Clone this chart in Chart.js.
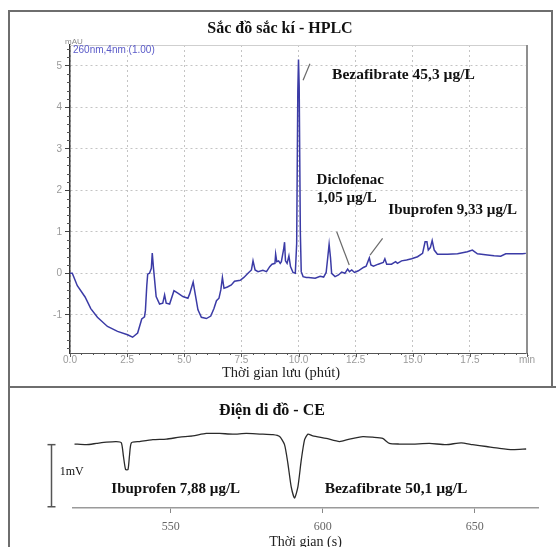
<!DOCTYPE html>
<html>
<head>
<meta charset="utf-8">
<script src="https://cdn.jsdelivr.net/npm/chart.js@4.4.1/dist/chart.umd.min.js"></script>
<style>
  html, body { margin: 0; padding: 0; background: #fff; overflow: hidden; }
  #page { position: relative; width: 556px; height: 547px; overflow: hidden; }
  .frame { position: absolute; background: #6e6e6e; }
  .title { position: absolute; font: bold 16px 'Liberation Serif', serif; color: #111; white-space: nowrap; transform: translateX(-50%); }
  #hplcBox { position: absolute; left: 0; top: 0; width: 556px; height: 387px; }
  #ceBox { position: absolute; left: 0; top: 388px; width: 556px; height: 172px; }
</style>
</head>
<body>
<div id="page">
  <div id="hplcBox"><canvas id="hplcChart"></canvas></div>
  <div id="ceBox"><canvas id="ceChart"></canvas></div>
  <div class="frame" style="left:8px;top:10px;width:545px;height:2px"></div>
  <div class="frame" style="left:8px;top:10px;width:2px;height:540px"></div>
  <div class="frame" style="left:551px;top:10px;width:2px;height:377px"></div>
  <div class="frame" style="left:8px;top:386px;width:548px;height:2px"></div>
  <div class="title" style="left:280px;top:19px">Sắc đồ sắc kí - HPLC</div>
  <div class="title" style="left:272px;top:401px">Điện di đồ - CE</div>
</div>
<script>
// ==========================
// Dữ liệu HPLC (phút, mAU)
// ==========================
const hplcTime = [
  0.0, 0.1, 0.32, 0.66, 0.91, 1.2, 1.64, 2.08, 2.52, 2.74, 2.96, 3.14, 3.26, 3.3, 3.36, 3.4,
  3.48, 3.56, 3.6, 3.65, 3.77, 3.92, 4.06, 4.14, 4.21, 4.36, 4.55, 4.72, 4.94, 5.16,
  5.24, 5.39, 5.49, 5.6, 5.75, 5.97, 6.16, 6.3, 6.41, 6.52, 6.6, 6.67, 6.74, 6.89,
  7.06, 7.2, 7.45, 7.61, 7.79, 7.94, 8.01, 8.1, 8.23, 8.44, 8.6, 8.74, 8.84, 8.97,
  9.0, 9.05, 9.13, 9.2, 9.25, 9.35, 9.39, 9.43, 9.5, 9.58, 9.65, 9.76, 9.86, 9.92,
  9.97, 10.0, 10.03, 10.08, 10.12, 10.2, 10.34, 10.44, 10.73, 10.95, 11.1, 11.21,
  11.28, 11.34, 11.4, 11.45, 11.6, 11.75, 11.89, 12.03, 12.15, 12.23, 12.33, 12.45,
  12.62, 12.84, 12.96, 13.1, 13.17, 13.28, 13.49, 13.71, 13.78, 13.86, 14.07, 14.25,
  14.33, 14.51, 14.73, 14.95, 15.21, 15.43, 15.54, 15.62, 15.68, 15.77, 15.85, 15.94,
  16.08, 16.52, 16.96, 17.39, 17.61, 17.83, 18.27, 18.56, 18.85, 19.07, 19.43, 19.8, 19.95
];
const hplcAbs = [
  0.0, 0.0, -0.3, -0.57, -0.85, -1.06, -1.28, -1.4, -1.48, -1.54, -1.44, -1.1, -1.05, -0.9, -0.3, -0.02,
  0.0, 0.12, 0.49, 0.15, -0.56, -0.74, -0.72, -0.52, -0.72, -0.74, -0.42, -0.48, -0.56, -0.6,
  -0.49, -0.21, -0.53, -0.88, -1.06, -1.09, -1.03, -0.85, -0.66, -0.6, -0.4, -0.1, -0.36, -0.33,
  -0.28, -0.19, -0.17, -0.1, 0.0, 0.08, 0.3, 0.08, 0.04, 0.07, 0.04, 0.16, 0.22, 0.24,
  0.46, 0.28, 0.3, 0.24, 0.28, 0.58, 0.75, 0.3, 0.24, 0.42, 0.16, 0.02, 0.0, 0.72,
  4.4, 5.15, 4.5, 1.0, 0.04, -0.08, -0.1, -0.1, -0.12, -0.07, -0.09, 0.02,
  0.38, 0.7, 0.38, 0.0, -0.08, -0.04, 0.03, 0.0, 0.1, 0.04, 0.08, 0.02,
  0.06, 0.14, 0.17, 0.37, 0.2, 0.17, 0.22, 0.26, 0.35, 0.22, 0.22, 0.28,
  0.24, 0.3, 0.32, 0.35, 0.4, 0.48, 0.76, 0.76, 0.56, 0.62, 0.79, 0.56,
  0.46, 0.46, 0.47, 0.52, 0.56, 0.47, 0.44, 0.42, 0.41, 0.47, 0.47, 0.47, 0.48
];
const hplcXTicks = [0, 2.5, 5, 7.5, 10, 12.5, 15, 17.5, 20];
const hplcXLabels = ['0.0', '2.5', '5.0', '7.5', '10.0', '12.5', '15.0', '17.5', 'min'];
const hplcYTicks = [-1, 0, 1, 2, 3, 4, 5];

// ==========================
// Dữ liệu CE (giây, mV)
// ==========================
const ceTime = [
  518.3, 522.2, 525.5, 528.8, 532.0, 533.7, 534.4, 535.1, 535.9, 536.4, 537.0, 539.7,
  544.1, 548.5, 552.9, 557.2, 561.6, 566.0, 570.4, 574.8, 579.2, 583.6, 585.8, 587.4,
  588.5, 589.6, 590.7, 591.8, 592.9, 594.0, 595.1, 596.7, 601.1, 605.5, 608.8, 613.2,
  616.4, 619.7, 621.9, 625.2, 629.6, 635.1, 640.6, 645.5, 649.3, 653.8, 658.1, 662.5, 666.9
];
const ceSignal = [
  1.03, 1.02, 1.04, 1.06, 1.07, 1.05, 0.83, 0.62, 0.62, 0.85, 1.05, 1.07,
  1.10, 1.11, 1.14, 1.16, 1.20, 1.20, 1.19, 1.20, 1.19, 1.18, 1.15, 1.02,
  0.72, 0.34, 0.16, 0.34, 0.77, 1.10, 1.19, 1.16, 1.12, 1.07, 1.11, 1.15,
  1.14, 1.12, 1.04, 1.03, 1.03, 1.04, 1.02, 1.05, 1.02, 0.99, 0.96, 0.94, 0.95
];
const ceXTicks = [550, 600, 650];

const serif = '"Liberation Serif", "Times New Roman", serif';
const sans = '"Liberation Sans", Arial, sans-serif';

function seg(ctx, x1, y1, x2, y2) {
  ctx.beginPath();
  ctx.moveTo(x1, y1);
  ctx.lineTo(x2, y2);
  ctx.stroke();
}

function label(ctx, text, x, y, font) {
  ctx.font = font;
  ctx.fillText(text, x, y);
}

// ==========================
// Sắc đồ HPLC
// ==========================
const hplcExtras = {
  id: 'hplcExtras',
  afterDraw(chart) {
    const { ctx, chartArea: a } = chart;
    const x = chart.scales.x, y = chart.scales.y;
    const px = v => x.getPixelForValue(v);
    const py = v => y.getPixelForValue(v);
    ctx.save();

    // khung trên + phải
    ctx.strokeStyle = '#cfcfcf'; ctx.lineWidth = 1;
    seg(ctx, a.left, a.top + 0.5, a.right, a.top + 0.5);
    ctx.strokeStyle = '#8f8f8f'; ctx.lineWidth = 2;
    seg(ctx, a.right, a.top, a.right, a.bottom + 1);

    // vạch chia trục
    ctx.strokeStyle = '#555'; ctx.lineWidth = 1;
    for (let k = 0; k <= 40; k++) {
      const xx = Math.round(px(k * 0.5)) + 0.5;
      seg(ctx, xx, a.bottom, xx, a.bottom + (k % 5 === 0 ? 4 : 2));
    }
    for (let k = -9; k <= 27; k++) {
      if (k % 5 === 0) continue;
      const yy = Math.round(py(k * 0.2)) + 0.5;
      seg(ctx, a.left - 3, yy, a.left, yy);
    }

    // chữ nhỏ của máy
    ctx.textAlign = 'left'; ctx.textBaseline = 'alphabetic';
    ctx.fillStyle = '#8a8a8a';
    label(ctx, 'mAU', a.left - 5, a.top - 1, '8px ' + sans);
    ctx.fillStyle = '#5a5ac8';
    label(ctx, '260nm,4nm (1.00)', a.left + 3, a.top + 8, '10px ' + sans);

    // đường chỉ pic
    ctx.strokeStyle = '#6a6a6a'; ctx.lineWidth = 1.2;
    seg(ctx, px(10.2), py(4.65), px(10.5), py(5.05));
    seg(ctx, px(11.67), py(1.0), px(12.22), py(0.2));
    seg(ctx, px(13.68), py(0.84), px(13.13), py(0.44));

    // nhãn pic
    ctx.fillStyle = '#111'; ctx.textBaseline = 'middle';
    const bold = 'bold 15px ' + serif;
    label(ctx, 'Bezafibrate 45,3 µg/L', px(11.47), py(4.78), 'bold 15.5px ' + serif);
    label(ctx, 'Diclofenac', px(10.79), py(2.25), bold);
    label(ctx, '1,05 µg/L', px(10.79), py(1.81), bold);
    label(ctx, 'Ibuprofen 9,33 µg/L', px(13.93), py(1.51), bold);

    // tên trục x
    ctx.textAlign = 'center';
    ctx.fillStyle = '#222';
    label(ctx, 'Thời gian lưu (phút)', 281, 373, '14.5px ' + serif);
    ctx.restore();
  }
};

new Chart(document.getElementById('hplcChart'), {
  type: 'line',
  data: {
    datasets: [{
      data: hplcTime.map((t, i) => ({ x: t, y: hplcAbs[i] })),
      borderColor: '#3b3ba6',
      borderWidth: 1.5,
      pointRadius: 0,
      tension: 0,
      fill: false
    }]
  },
  options: {
    responsive: true,
    maintainAspectRatio: false,
    animation: false,
    layout: { padding: { top: 45, left: 40, right: 29, bottom: 0 } },
    plugins: { legend: { display: false }, tooltip: { enabled: false } },
    scales: {
      x: {
        type: 'linear', min: 0, max: 20,
        afterBuildTicks: s => { s.ticks = hplcXTicks.map(v => ({ value: v })); },
        afterFit: s => { s.height = 34; },
        grid: { color: '#c4c4c4', drawTicks: false },
        border: { color: '#555', width: 1, dash: [2, 3] },
        ticks: {
          padding: 1, color: '#9a9a9a', font: { family: sans, size: 10 },
          maxRotation: 0, autoSkip: false,
          callback: v => hplcXLabels[hplcXTicks.indexOf(v)]
        }
      },
      y: {
        min: -1.92, max: 5.5,
        afterBuildTicks: s => { s.ticks = hplcYTicks.map(v => ({ value: v })); },
        afterFit: s => { s.width = 30; },
        grid: { color: '#c4c4c4', tickLength: 5, tickColor: '#444' },
        border: { color: '#333', width: 1.5, dash: [2, 3] },
        ticks: { padding: 3, color: '#9a9a9a', font: { family: sans, size: 10 } }
      }
    }
  },
  plugins: [hplcExtras]
});

// ==========================
// Điện di đồ CE
// ==========================
const ceExtras = {
  id: 'ceExtras',
  afterDraw(chart) {
    const { ctx } = chart;
    const x = chart.scales.x, y = chart.scales.y;
    const px = v => x.getPixelForValue(v);
    const py = v => y.getPixelForValue(v);
    ctx.save();

    // thanh tỉ lệ 1 mV
    const bx = Math.round(px(510.6)) + 0.5;
    const y0 = py(0.02), y1 = py(1.02);
    ctx.strokeStyle = '#555'; ctx.lineWidth = 1.5;
    seg(ctx, bx, y0, bx, y1);
    seg(ctx, bx - 4, y0, bx + 4, y0);
    seg(ctx, bx - 4, y1, bx + 4, y1);

    ctx.fillStyle = '#111'; ctx.textAlign = 'left'; ctx.textBaseline = 'middle';
    label(ctx, '1mV', px(513.4), py(0.58), '12px ' + serif);
    label(ctx, 'Ibuprofen 7,88 µg/L', px(530.4), py(0.30), 'bold 15px ' + serif);
    label(ctx, 'Bezafibrate 50,1 µg/L', px(600.6), py(0.30), 'bold 15.5px ' + serif);
    ctx.restore();
  }
};

new Chart(document.getElementById('ceChart'), {
  type: 'line',
  data: {
    datasets: [{
      data: ceTime.map((t, i) => ({ x: t, y: ceSignal[i] })),
      borderColor: '#2a2a2a',
      borderWidth: 1.3,
      pointRadius: 0,
      tension: 0.2,
      fill: false
    }]
  },
  options: {
    responsive: true,
    maintainAspectRatio: false,
    animation: false,
    layout: { padding: { top: 2, left: 73, right: 18, bottom: 0 } },
    plugins: { legend: { display: false }, tooltip: { enabled: false } },
    scales: {
      x: {
        type: 'linear', min: 517.8, max: 670.8,
        afterBuildTicks: s => { s.ticks = ceXTicks.map(v => ({ value: v })); },
        afterFit: s => { s.height = 52; },
        grid: { drawOnChartArea: false, tickLength: 5, tickColor: '#888' },
        border: { color: '#9a9a9a', width: 1.5 },
        ticks: { padding: 7, color: '#666', font: { family: serif, size: 12 } },
        title: {
          display: true, text: 'Thời gian (s)', color: '#222',
          font: { family: serif, size: 14 }, padding: { top: 0, bottom: 9 }
        }
      },
      y: { display: false, min: 0, max: 1.9 }
    }
  },
  plugins: [ceExtras]
});
</script>
</body>
</html>
